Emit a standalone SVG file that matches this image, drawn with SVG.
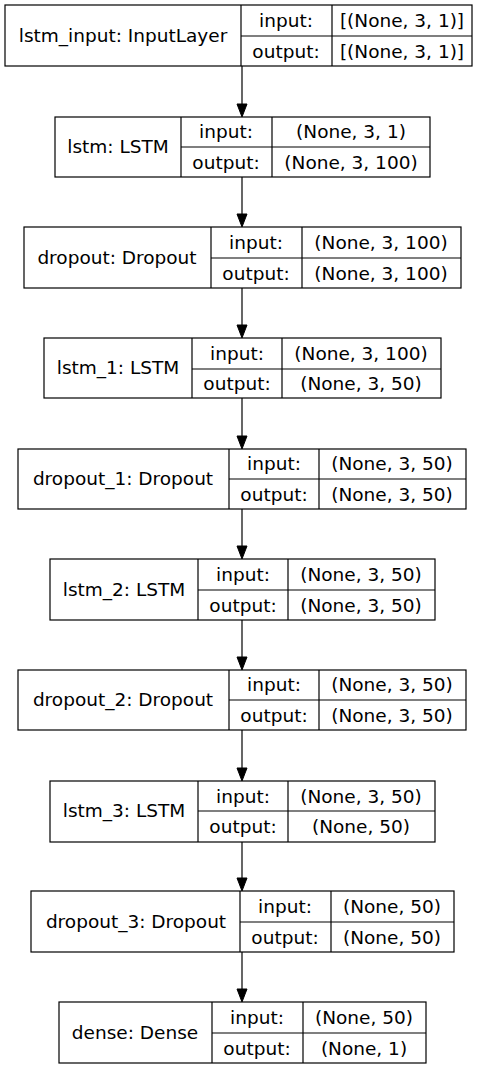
<svg xmlns="http://www.w3.org/2000/svg" width="485" height="1069" viewBox="0 0 485 1069">
<style>
.n rect,.n line{fill:none;stroke:#000;stroke-width:1.2}
text{font-family:"DejaVu Sans",sans-serif;font-size:18.5px;fill:#000;text-anchor:middle}
.c line{stroke:#000;stroke-width:1.2}
.c polygon{fill:#000;stroke:#000;stroke-width:1}
</style>
<rect x="0" y="0" width="485" height="1069" fill="#fff"/>
<g class="c" id="connectors">
<line x1="242" y1="66" x2="242" y2="105"/><polygon points="237,104 247,104 242,117"/>
<line x1="242" y1="177" x2="242" y2="215"/><polygon points="237,214 247,214 242,227"/>
<line x1="242" y1="288" x2="242" y2="326"/><polygon points="237,325 247,325 242,338"/>
<line x1="242" y1="398" x2="242" y2="437"/><polygon points="237,436 247,436 242,449"/>
<line x1="242" y1="509" x2="242" y2="547"/><polygon points="237,546 247,546 242,559"/>
<line x1="242" y1="620" x2="242" y2="658"/><polygon points="237,657 247,657 242,670"/>
<line x1="242" y1="730" x2="242" y2="769"/><polygon points="237,768 247,768 242,781"/>
<line x1="242" y1="842" x2="242" y2="879"/><polygon points="237,878 247,878 242,891"/>
<line x1="242" y1="952" x2="242" y2="990"/><polygon points="237,989 247,989 242,1002"/>
</g>
<g class="n" id="lstm_input">
<rect x="5" y="5" width="467" height="61"/>
<line x1="241" y1="5" x2="241" y2="66"/><line x1="332" y1="5" x2="332" y2="66"/><line x1="241" y1="36" x2="472" y2="36"/>
<text x="123" y="42">lstm_input: InputLayer</text>
<text x="286" y="27">input:</text><text x="402" y="27">[(None, 3, 1)]</text>
<text x="286" y="58">output:</text><text x="402" y="58">[(None, 3, 1)]</text>
</g>
<g class="n" id="lstm">
<rect x="55" y="117" width="375" height="60"/>
<line x1="181" y1="117" x2="181" y2="177"/><line x1="272" y1="117" x2="272" y2="177"/><line x1="181" y1="147" x2="430" y2="147"/>
<text x="118" y="153">lstm: LSTM</text>
<text x="226" y="138">input:</text><text x="351" y="138">(None, 3, 1)</text>
<text x="226" y="169">output:</text><text x="351" y="169">(None, 3, 100)</text>
</g>
<g class="n" id="dropout">
<rect x="24" y="227" width="437" height="61"/>
<line x1="211" y1="227" x2="211" y2="288"/><line x1="302" y1="227" x2="302" y2="288"/><line x1="211" y1="258" x2="461" y2="258"/>
<text x="117" y="264">dropout: Dropout</text>
<text x="256" y="249">input:</text><text x="381" y="249">(None, 3, 100)</text>
<text x="256" y="280">output:</text><text x="381" y="280">(None, 3, 100)</text>
</g>
<g class="n" id="lstm_1">
<rect x="44" y="338" width="397" height="60"/>
<line x1="192" y1="338" x2="192" y2="398"/><line x1="282" y1="338" x2="282" y2="398"/><line x1="192" y1="369" x2="441" y2="369"/>
<text x="118" y="374">lstm_1: LSTM</text>
<text x="237" y="360">input:</text><text x="361" y="360">(None, 3, 100)</text>
<text x="237" y="390">output:</text><text x="361" y="390">(None, 3, 50)</text>
</g>
<g class="n" id="dropout_1">
<rect x="18" y="449" width="448" height="60"/>
<line x1="229" y1="449" x2="229" y2="509"/><line x1="319" y1="449" x2="319" y2="509"/><line x1="229" y1="479" x2="466" y2="479"/>
<text x="123" y="485">dropout_1: Dropout</text>
<text x="274" y="470">input:</text><text x="392" y="470">(None, 3, 50)</text>
<text x="274" y="501">output:</text><text x="392" y="501">(None, 3, 50)</text>
</g>
<g class="n" id="lstm_2">
<rect x="50" y="559" width="385" height="61"/>
<line x1="198" y1="559" x2="198" y2="620"/><line x1="288" y1="559" x2="288" y2="620"/><line x1="198" y1="590" x2="435" y2="590"/>
<text x="124" y="596">lstm_2: LSTM</text>
<text x="243" y="581">input:</text><text x="361" y="581">(None, 3, 50)</text>
<text x="243" y="612">output:</text><text x="361" y="612">(None, 3, 50)</text>
</g>
<g class="n" id="dropout_2">
<rect x="18" y="670" width="448" height="60"/>
<line x1="229" y1="670" x2="229" y2="730"/><line x1="319" y1="670" x2="319" y2="730"/><line x1="229" y1="700" x2="466" y2="700"/>
<text x="123" y="706">dropout_2: Dropout</text>
<text x="274" y="691">input:</text><text x="392" y="691">(None, 3, 50)</text>
<text x="274" y="722">output:</text><text x="392" y="722">(None, 3, 50)</text>
</g>
<g class="n" id="lstm_3">
<rect x="50" y="781" width="385" height="61"/>
<line x1="198" y1="781" x2="198" y2="842"/><line x1="288" y1="781" x2="288" y2="842"/><line x1="198" y1="811" x2="435" y2="811"/>
<text x="124" y="817">lstm_3: LSTM</text>
<text x="243" y="803">input:</text><text x="361" y="803">(None, 3, 50)</text>
<text x="243" y="833">output:</text><text x="361" y="833">(None, 50)</text>
</g>
<g class="n" id="dropout_3">
<rect x="31" y="891" width="423" height="61"/>
<line x1="240" y1="891" x2="240" y2="952"/><line x1="331" y1="891" x2="331" y2="952"/><line x1="240" y1="922" x2="454" y2="922"/>
<text x="136" y="928">dropout_3: Dropout</text>
<text x="285" y="913">input:</text><text x="392" y="913">(None, 50)</text>
<text x="285" y="944">output:</text><text x="392" y="944">(None, 50)</text>
</g>
<g class="n" id="dense">
<rect x="59" y="1002" width="367" height="61"/>
<line x1="212" y1="1002" x2="212" y2="1063"/><line x1="303" y1="1002" x2="303" y2="1063"/><line x1="212" y1="1033" x2="426" y2="1033"/>
<text x="135" y="1039">dense: Dense</text>
<text x="257" y="1024">input:</text><text x="364" y="1024">(None, 50)</text>
<text x="257" y="1055">output:</text><text x="364" y="1055">(None, 1)</text>
</g>
</svg>
